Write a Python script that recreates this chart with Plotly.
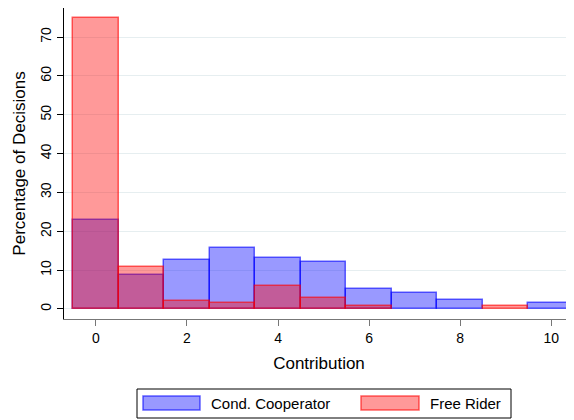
import plotly.graph_objects as go

contribution = [0, 1, 2, 3, 4, 5, 6, 7, 8, 9, 10]
cond_cooperator = [23.0, 8.7, 12.6, 15.8, 13.2, 12.2, 5.0, 4.2, 2.2, None, 1.6]
free_rider = [74.8, 10.9, 2.1, 1.4, 5.8, 2.8, 0.7, None, None, 0.7, None]
x_ticks = [0, 2, 4, 6, 8, 10]
y_ticks = [0, 10, 20, 30, 40, 50, 60, 70]

FONT = "Liberation Sans, Arial, sans-serif"

fig = go.Figure()
fig.add_trace(go.Bar(
    x=contribution, y=cond_cooperator, width=1, name="Cond. Cooperator",
    marker=dict(color="rgba(0,0,255,0.4)", line=dict(color="rgba(0,0,255,0.6)", width=1.5)),
    showlegend=False,
))
fig.add_trace(go.Bar(
    x=contribution, y=free_rider, width=1, name="Free Rider",
    marker=dict(color="rgba(255,0,0,0.4)", line=dict(color="rgba(255,0,0,0.6)", width=1.5)),
    showlegend=False,
))

OFF = 8  # page body margin
W, H = 574 - OFF, 420 - OFF
L, R, T, B = 64 - OFF, 574 - OFF, 8 - OFF, 319 - OFF


def px(x):
    return (x - OFF - L) / (R - L)


def py(y):
    return (B - (y - OFF)) / (B - T)


shapes = [
    dict(type="rect", xref="paper", yref="paper", x0=px(137), x1=px(511), y0=py(418), y1=py(389),
         line=dict(color="black", width=1), fillcolor="white", layer="above"),
    dict(type="rect", xref="paper", yref="paper", x0=px(143), x1=px(200), y0=py(410), y1=py(396),
         line=dict(color="rgba(0,0,255,0.6)", width=1.5), fillcolor="rgba(0,0,255,0.4)", layer="above"),
    dict(type="rect", xref="paper", yref="paper", x0=px(361), x1=px(419), y0=py(410), y1=py(396),
         line=dict(color="rgba(255,0,0,0.6)", width=1.5), fillcolor="rgba(255,0,0,0.4)", layer="above"),
]
annotations = [
    dict(xref="paper", yref="paper", x=px(209), y=py(403), text="Cond. Cooperator", showarrow=False,
         xanchor="left", yanchor="middle", xshift=0, font=dict(family=FONT, size=15, color="black")),
    dict(xref="paper", yref="paper", x=px(428), y=py(403), text="Free Rider", showarrow=False,
         xanchor="left", yanchor="middle", font=dict(family=FONT, size=15, color="black")),
]

fig.update_layout(
    width=W, height=H,
    margin=dict(l=L, r=W - R, t=T, b=H - B, autoexpand=False),
    barmode="overlay", bargap=0,
    plot_bgcolor="white", paper_bgcolor="white",
    font=dict(family=FONT, size=14, color="black"),
    shapes=shapes, annotations=annotations,
    xaxis=dict(
        range=[-0.7, 10.5], tickvals=x_ticks, ticks="outside", ticklen=6, tickcolor="#777777",
        showline=True, linecolor="#777777", linewidth=1, showgrid=False, zeroline=False,
        title=dict(text="Contribution", standoff=12), tickfont=dict(size=14),
    ),
    yaxis=dict(
        range=[-2.6, 77.5], tickvals=y_ticks, ticks="outside", ticklen=6, tickcolor="black",
        tickangle=-90, showline=True, linecolor="black", linewidth=1,
        showgrid=True, gridcolor="#E6EEF0", gridwidth=1, zeroline=False,
        title=dict(text="Percentage of Decisions", standoff=8), tickfont=dict(size=14),
    ),
)

fig.write_html("out.html")
